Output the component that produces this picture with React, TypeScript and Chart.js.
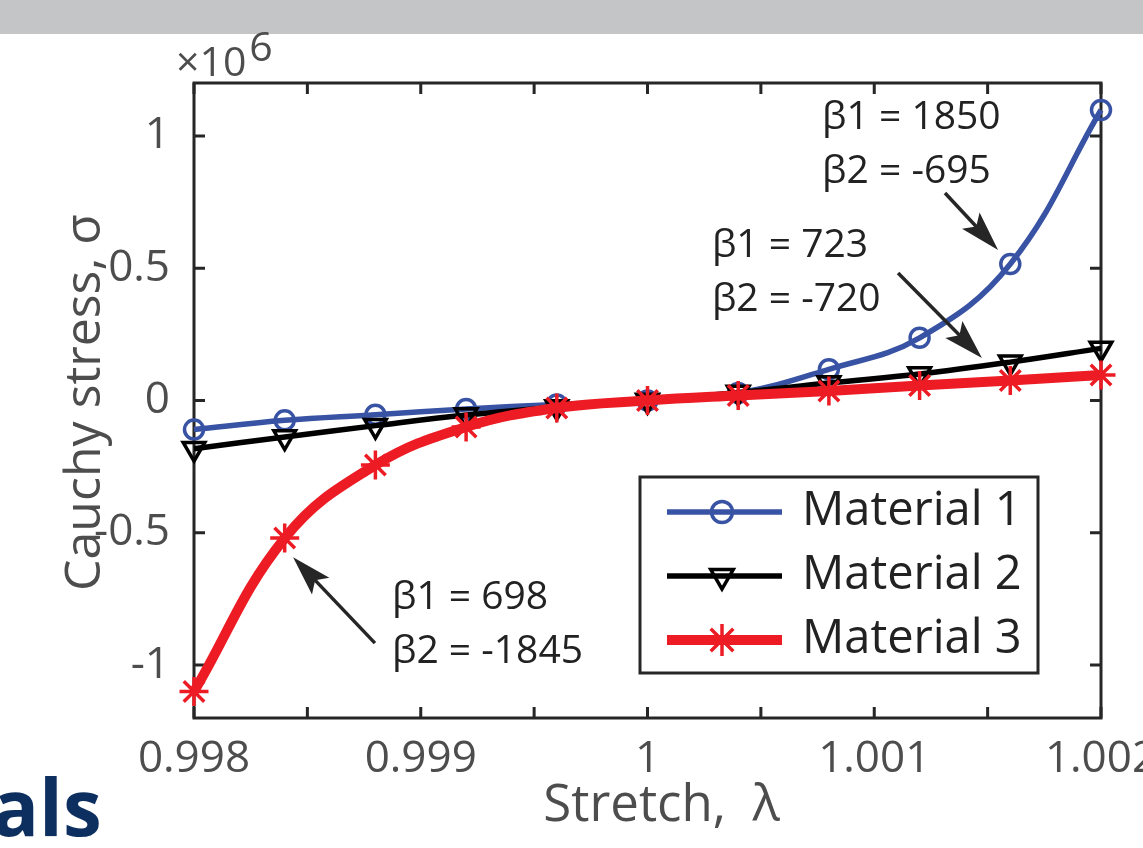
import React, { useEffect, useRef } from 'react';
import { Chart, registerables } from 'chart.js';
import { drawPoint } from 'chart.js/helpers';

Chart.register(...registerables);

// ---------- data (stress in units of 10^6) ----------
const stretch = [0.998, 0.9984, 0.9988, 0.9992, 0.9996, 1.0, 1.0004, 1.0008, 1.0012, 1.0016, 1.002];
const material1 = [-0.11, -0.075, -0.054, -0.032, -0.015, 0, 0.028, 0.118, 0.237, 0.516, 1.098];
const material2 = [-0.182, -0.138, -0.095, -0.055, -0.025, 0, 0.03, 0.066, 0.1, 0.145, 0.197];
const material3 = [-1.1, -0.52, -0.244, -0.1, -0.028, 0, 0.019, 0.036, 0.057, 0.076, 0.096];
const seriesNames = ['Material 1', 'Material 2', 'Material 3'];
const xTickLabels = ['0.998', '0.999', '1', '1.001', '1.002'];
const yTickLabels = ['-1', '-0.5', '0', '0.5', '1'];
const xTitle = 'Stretch,  λ';
const yTitle = 'Cauchy stress, σ';
const yExponentBase = '×10';
const yExponentPower = '6';
const annotationLines = [
  ['β1 = 1850', 'β2 = -695'],
  ['β1 = 723', 'β2 = -720'],
  ['β1 = 698', 'β2 = -1845'],
];
// left edge (stretch) and first-line centre (stress) of each annotation
const annotationAnchorX = [1.00077, 1.000284, 0.998873];
const annotationAnchorY = [1.068, 0.585, -0.747];
// arrows: start -> tip, in data units
const arrowFromX = [1.001312, 1.001105, 0.998798];
const arrowFromY = [0.7845, 0.482, -0.917];
const arrowToX = [1.001546, 1.001475, 0.998437];
const arrowToY = [0.569, 0.161, -0.592];

// ---------- styles ----------
const FONT = '"Open Sans", sans-serif';
const AXIS = '#262626';
const TICK_TEXT = '#4d4d4d';
const DARK_TEXT = '#222222';
const BLUE = '#3953a4';
const RED = '#ed1c24';
const BLACK = '#000000';

const seriesStyles = [
  { color: BLUE, width: 5.5, pointStyle: 'circle', radius: 9.5, rotation: 0, legendRadius: 10.5 },
  { color: BLACK, width: 5.5, pointStyle: 'triangle', radius: 12.5, rotation: 180, legendRadius: 13 },
  { color: RED, width: 10, pointStyle: 'star', radius: 14.5, rotation: 0, legendRadius: 16 },
];
const seriesValues = [material1, material2, material3];

function drawArrow(ctx: CanvasRenderingContext2D, x0: number, y0: number, x1: number, y1: number) {
  const dx = x1 - x0;
  const dy = y1 - y0;
  const len = Math.hypot(dx, dy);
  const ux = dx / len;
  const uy = dy / len;
  const hl = 40;
  const hw = 24;
  const nx = -uy;
  const ny = ux;
  ctx.beginPath();
  ctx.moveTo(x0, y0);
  ctx.lineTo(x1 - ux * hl * 0.7, y1 - uy * hl * 0.7);
  ctx.stroke();
  ctx.beginPath();
  ctx.moveTo(x1, y1);
  ctx.lineTo(x1 - ux * hl + nx * hw / 2, y1 - uy * hl + ny * hw / 2);
  ctx.lineTo(x1 - ux * hl * 0.8, y1 - uy * hl * 0.8);
  ctx.lineTo(x1 - ux * hl - nx * hw / 2, y1 - uy * hl - ny * hw / 2);
  ctx.closePath();
  ctx.fill();
}

const decorPlugin = {
  id: 'decor',
  beforeDatasetsDraw(chart: any) {
    const { ctx, chartArea: a, scales } = chart;
    const x = scales.x;
    const y = scales.y;
    const TL = 11;
    ctx.save();
    ctx.strokeStyle = AXIS;
    ctx.lineWidth = 3;
    ctx.lineCap = 'square';
    ctx.strokeRect(a.left, a.top, a.right - a.left, a.bottom - a.top);
    ctx.beginPath();
    x.ticks.forEach((t: any) => {
      const p = x.getPixelForValue(t.value);
      ctx.moveTo(p, a.bottom);
      ctx.lineTo(p, a.bottom - TL);
      ctx.moveTo(p, a.top);
      ctx.lineTo(p, a.top + TL);
    });
    y.ticks.forEach((t: any) => {
      const p = y.getPixelForValue(t.value);
      ctx.moveTo(a.left, p);
      ctx.lineTo(a.left + TL, p);
      ctx.moveTo(a.right, p);
      ctx.lineTo(a.right - TL, p);
    });
    ctx.lineCap = 'butt';
    ctx.stroke();
    ctx.restore();
  },
  afterDatasetsDraw(chart: any) {
    const { ctx, chartArea: a, scales } = chart;
    const x = scales.x;
    const y = scales.y;
    ctx.save();

    // axis titles
    ctx.fillStyle = TICK_TEXT;
    ctx.font = `51px ${FONT}`;
    ctx.textAlign = 'center';
    ctx.textBaseline = 'alphabetic';
    ctx.fillText(xTitle, (a.left + a.right) / 2 + 14, 821);

    ctx.save();
    ctx.translate(86, (a.top + a.bottom) / 2 + 2);
    ctx.rotate(-Math.PI / 2);
    ctx.font = `50px ${FONT}`;
    ctx.textBaseline = 'middle';
    ctx.fillText(yTitle, 0, 0);
    ctx.restore();

    // exponent
    ctx.textAlign = 'left';
    ctx.textBaseline = 'alphabetic';
    ctx.font = `41px ${FONT}`;
    ctx.fillText(yExponentBase, a.left - 18, a.top - 7);
    const w = ctx.measureText(yExponentBase).width;
    ctx.fillText(yExponentPower, a.left - 18 + w + 3, a.top - 22);

    // annotations
    ctx.fillStyle = DARK_TEXT;
    ctx.font = `39px ${FONT}`;
    ctx.textBaseline = 'middle';
    annotationLines.forEach((lines, i) => {
      const ax = x.getPixelForValue(annotationAnchorX[i]);
      const ay = y.getPixelForValue(annotationAnchorY[i]);
      lines.forEach((t, j) => ctx.fillText(t, ax, ay + j * 54));
    });

    // arrows
    ctx.strokeStyle = AXIS;
    ctx.fillStyle = AXIS;
    ctx.lineWidth = 3.5;
    arrowFromX.forEach((_, i) => {
      drawArrow(
        ctx,
        x.getPixelForValue(arrowFromX[i]),
        y.getPixelForValue(arrowFromY[i]),
        x.getPixelForValue(arrowToX[i]),
        y.getPixelForValue(arrowToY[i])
      );
    });

    // legend
    const lw = 398;
    const lh = 196;
    const lx = a.right - 63 - lw;
    const ly = a.bottom - 45 - lh;
    ctx.fillStyle = '#ffffff';
    ctx.fillRect(lx, ly, lw, lh);
    ctx.strokeStyle = AXIS;
    ctx.lineWidth = 3;
    ctx.strokeRect(lx, ly, lw, lh);
    chart.data.datasets.forEach((ds: any, i: number) => {
      const st = seriesStyles[i];
      const cy = ly + 35 + i * 64;
      ctx.strokeStyle = st.color;
      ctx.lineWidth = st.width;
      ctx.beginPath();
      ctx.moveTo(lx + 27, cy);
      ctx.lineTo(lx + 142, cy);
      ctx.stroke();
      ctx.lineWidth = 3.5;
      ctx.fillStyle = 'rgba(0,0,0,0)';
      drawPoint(ctx, { pointStyle: st.pointStyle, rotation: st.rotation, radius: st.legendRadius, borderWidth: 3.5 } as any, lx + 82, cy);
      ctx.fillStyle = DARK_TEXT;
      ctx.font = `47px ${FONT}`;
      ctx.textAlign = 'left';
      ctx.textBaseline = 'middle';
      ctx.fillText(ds.label, lx + 162, cy);
    });

    ctx.restore();
  },
};

export default function App() {
  const ref = useRef<HTMLCanvasElement>(null);

  useEffect(() => {
    const canvas = ref.current;
    if (!canvas) return;
    const datasets = seriesNames.map((name, i) => {
      const st = seriesStyles[i];
      return {
        label: name,
        data: stretch.map((s, k) => ({ x: s, y: seriesValues[i][k] })),
        borderColor: st.color,
        backgroundColor: 'rgba(0,0,0,0)',
        borderWidth: st.width,
        pointStyle: st.pointStyle,
        pointRadius: st.radius,
        pointRotation: st.rotation,
        pointBorderWidth: 3.5,
        pointBorderColor: st.color,
        pointBackgroundColor: 'rgba(0,0,0,0)',
        tension: 0.4,
        fill: false,
        clip: false,
        order: 3 - i,
      };
    });
    const chart = new Chart(canvas, {
      type: 'line',
      data: { datasets } as any,
      options: {
        animation: false,
        responsive: false,
        maintainAspectRatio: false,
        devicePixelRatio: 1,
        events: [],
        layout: { padding: { left: 0, top: 83, right: 42, bottom: 0 } },
        scales: {
          x: {
            type: 'linear',
            min: 0.998,
            max: 1.002,
            grid: { display: false },
            border: { display: false },
            ticks: {
              stepSize: 0.0005,
              includeBounds: false,
              autoSkip: false,
              maxRotation: 0,
              minRotation: 0,
              padding: 7,
              color: TICK_TEXT,
              font: { family: FONT, size: 44 },
              callback: (v: any) => {
                const idx = Math.round((Number(v) - 0.998) / 0.001);
                const exact = 0.998 + idx * 0.001;
                return Math.abs(Number(v) - exact) < 1e-7 && idx >= 0 && idx < xTickLabels.length ? xTickLabels[idx] : '';
              },
            },
            afterFit: (s: any) => {
              s.height = 848 - 718;
              s.paddingLeft = 0;
              s.paddingRight = 0;
            },
          },
          y: {
            type: 'linear',
            min: -1.2,
            max: 1.2,
            grid: { display: false },
            border: { display: false },
            ticks: {
              stepSize: 0.5,
              includeBounds: false,
              autoSkip: false,
              padding: 16,
              color: TICK_TEXT,
              font: { family: FONT, size: 44 },
              callback: (v: any) => {
                const idx = Math.round((Number(v) + 1) / 0.5);
                return idx >= 0 && idx < yTickLabels.length ? yTickLabels[idx] : '';
              },
            },
            afterFit: (s: any) => {
              s.width = 194;
              s.paddingTop = 0;
              s.paddingBottom = 0;
            },
          },
        },
        plugins: {
          legend: { display: false },
          tooltip: { enabled: false },
        },
      } as any,
      plugins: [decorPlugin],
    });
    return () => chart.destroy();
  }, []);

  return (
    <div
      style={{
        position: 'absolute',
        left: 0,
        top: 0,
        width: 1143,
        height: 848,
        overflow: 'hidden',
        background: '#ffffff',
      }}
    >
      <div style={{ position: 'absolute', left: 0, top: 0, width: 1143, height: 34, background: '#c4c5c7' }} />
      <div
        style={{
          position: 'absolute',
          left: -8,
          top: 767,
          font: `bold 78px ${FONT}`,
          lineHeight: '78px',
          color: '#0d2f5f',
          whiteSpace: 'nowrap',
        }}
      >
        als
      </div>
      <canvas
        ref={ref}
        width={1143}
        height={848}
        style={{ position: 'absolute', left: 0, top: 0, width: 1143, height: 848 }}
      />
    </div>
  );
}
